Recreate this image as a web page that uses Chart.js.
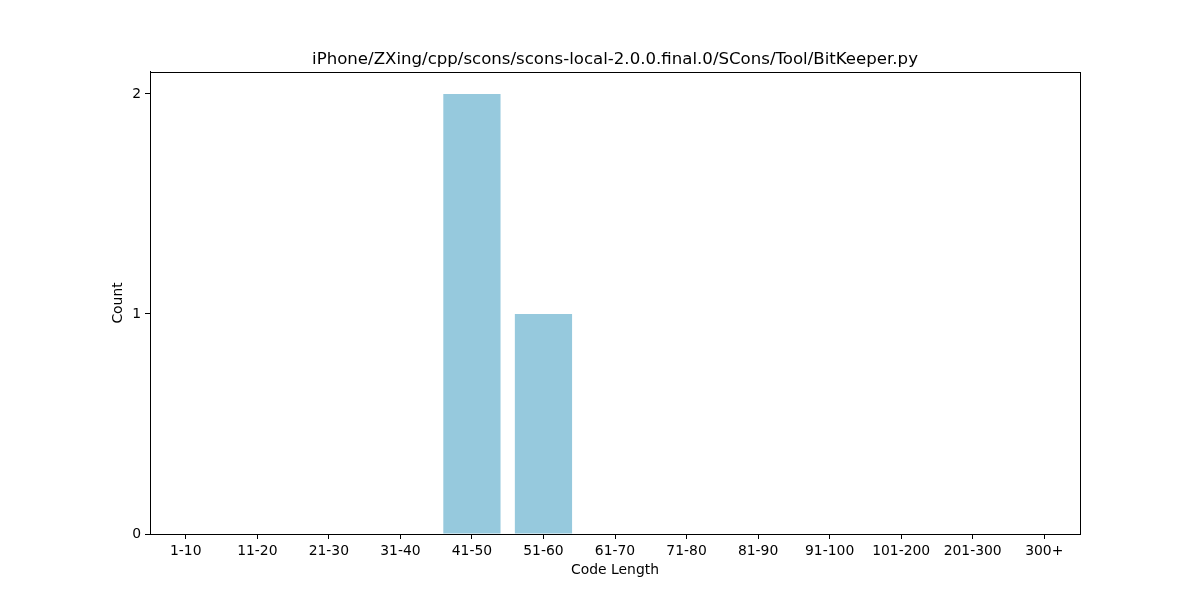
<!DOCTYPE html>
<html>
<head>
<meta charset="utf-8">
<script src="https://cdn.jsdelivr.net/npm/chart.js@4"></script>
<style>
  html, body { margin: 0; padding: 0; background: #fff; }
  #wrap { width: 1200px; height: 600px; }
</style>
</head>
<body>
<div id="wrap"><canvas id="length-chart"></canvas></div>
<script>
/* Data */
let chartTitle = 'iPhone/ZXing/cpp/scons/scons-local-2.0.0.final.0/SCons/Tool/BitKeeper.py'
let lengthBins = ['1-10', '11-20', '21-30', '31-40', '41-50', '51-60', '61-70', '71-80', '81-90', '91-100', '101-200', '201-300', '300+']
let binCounts = [0, 0, 0, 0, 2, 1, 0, 0, 0, 0, 0, 0, 0]
let countTicks = [0, 1, 2]

let barColor = 'rgb(150, 201, 221)'
let fontName = 'DejaVu Sans'

// draws the frame round the plot area, like matplotlib's spines
let frameBox = {
    id: 'frameBox',
    afterDraw(chart) {
        let area = chart.chartArea
        let ctx = chart.ctx
        ctx.save()
        ctx.strokeStyle = '#000'
        ctx.lineWidth = 1
        ctx.strokeRect(Math.round(area.left) + 0.5, Math.round(area.top) + 0.5,
            Math.round(area.right - area.left), Math.round(area.bottom - area.top))
        ctx.restore()
    }
}

let ctx = document.querySelector('#length-chart').getContext('2d')

let lengthChart = new Chart(ctx, {
    type: 'bar',
    data: {
        labels: lengthBins,
        datasets: [{
            data: binCounts,
            backgroundColor: barColor,
            borderWidth: 0,
            barPercentage: 0.8,
            categoryPercentage: 1.0
        }]
    },
    options: {
        responsive: true,
        maintainAspectRatio: false,
        animation: false,
        layout: { padding: { top: 0, right: 120, bottom: 0, left: 0 } },
        plugins: {
            legend: { display: false },
            tooltip: { enabled: false },
            title: {
                display: true,
                text: chartTitle,
                fullSize: false,
                color: '#000',
                font: { family: fontName, size: 16.6, weight: 'normal' },
                padding: { top: 50, bottom: 2 }
            }
        },
        scales: {
            x: {
                offset: true,
                grid: { display: true, offset: false, drawOnChartArea: false, drawTicks: true, tickLength: 5, color: '#000' },
                border: { display: true, color: '#000' },
                ticks: { color: '#000', font: { family: fontName, size: 13.9 }, padding: 4, maxRotation: 0, autoSkip: false },
                title: {
                    display: true,
                    text: 'Code Length',
                    color: '#000',
                    font: { family: fontName, size: 13.9 },
                    padding: { top: 4, bottom: 21 }
                },
                afterFit(scale) { scale.height = 66 }
            },
            y: {
                min: 0,
                max: 2.1,
                grid: { display: true, drawOnChartArea: false, drawTicks: true, tickLength: 5, color: '#000' },
                border: { display: true, color: '#000' },
                ticks: { color: '#000', font: { family: fontName, size: 13.9 }, padding: 4 },
                afterBuildTicks(scale) {
                    scale.ticks = countTicks.map(function(v) { return { value: v } })
                },
                title: {
                    display: true,
                    text: 'Count',
                    color: '#000',
                    font: { family: fontName, size: 13.9 },
                    padding: { top: 110, bottom: 4 }
                },
                afterFit(scale) { scale.width = 150 }
            }
        }
    },
    plugins: [frameBox]
})
</script>
</body>
</html>
